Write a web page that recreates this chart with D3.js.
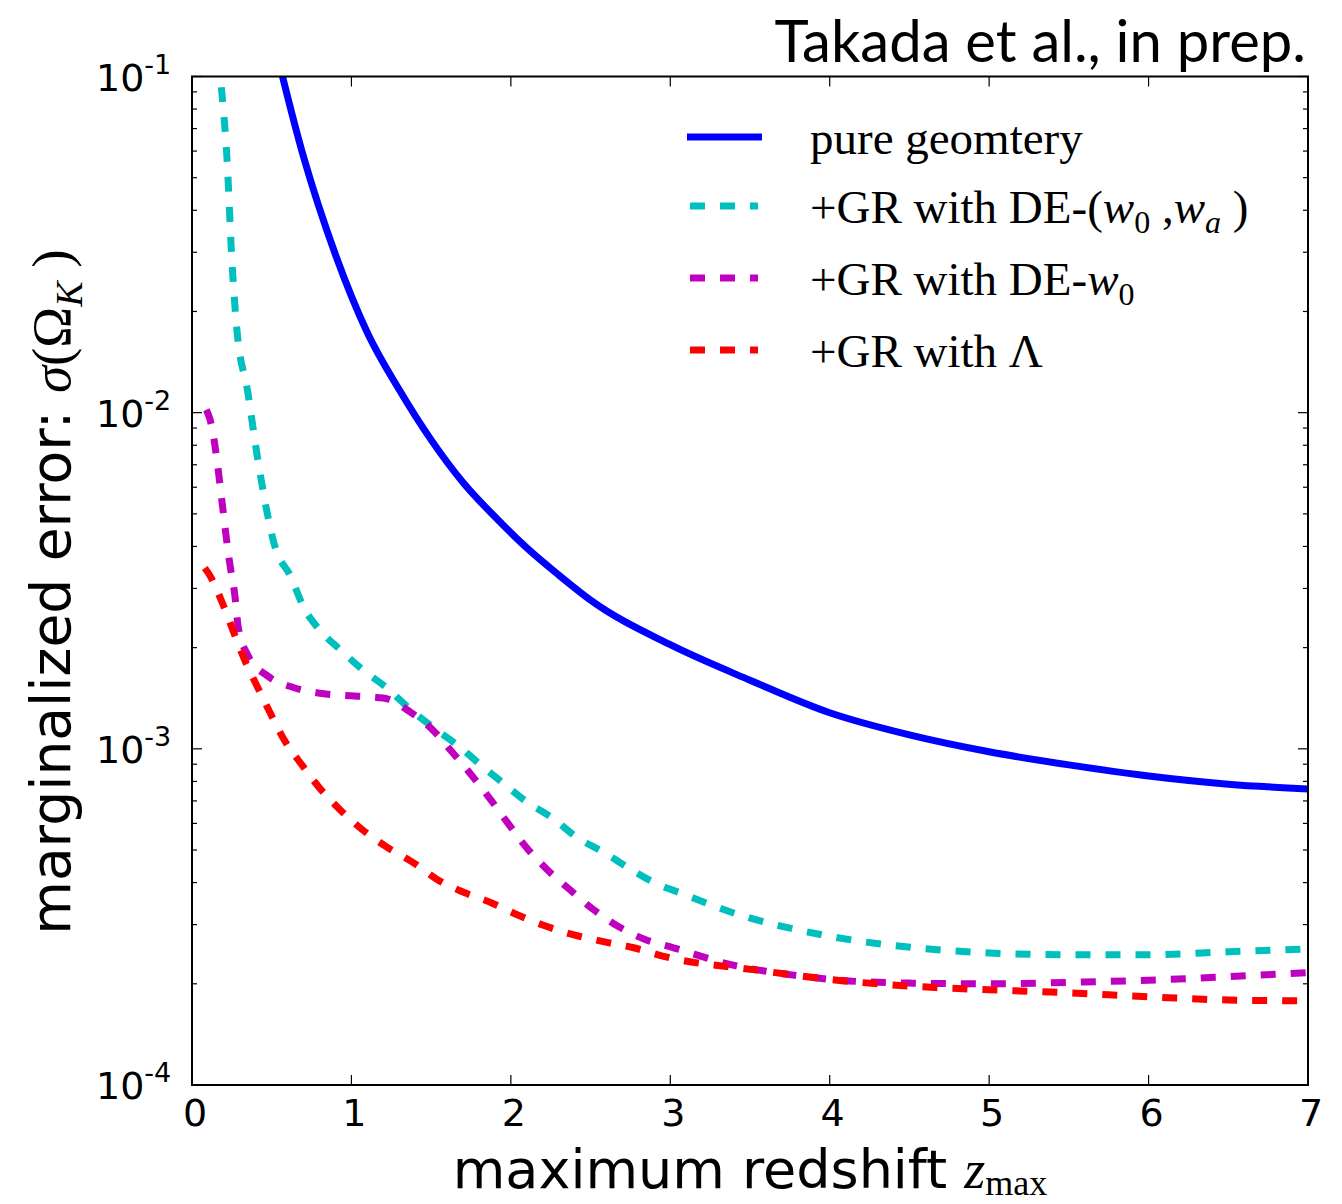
<!DOCTYPE html>
<html>
<head>
<meta charset="utf-8">
<script src="https://cdn.jsdelivr.net/npm/d3@7"></script>
<style>
  body { margin: 0; background: #fff; }
  svg { display: block; }
</style>
</head>
<body>
<script>
// readings: z_max and marginalized error sigma(Omega_K)
var zGeom   = [0.5, 0.7, 0.9, 1.1, 1.3, 1.5, 1.7, 1.9, 2.1, 2.3, 2.5, 3.0, 3.5, 4.0, 4.5, 5.0, 5.5, 6.0, 6.5, 7.0];
var sigGeom = [0.135, 0.0576, 0.0295, 0.0173, 0.0117, 0.0083, 0.0062, 0.0049, 0.00396, 0.00329, 0.00277, 0.00204, 0.0016, 0.00128, 0.0011, 0.00098, 0.000896, 0.00083, 0.000785, 0.00076];

var zW0Wa   = [0.15, 0.18, 0.22, 0.25, 0.28, 0.35, 0.41, 0.52, 0.62, 0.70, 0.80, 0.93, 1.07, 1.22, 1.37, 1.51, 1.66, 1.81, 1.95, 2.10, 2.26, 2.41, 2.58, 2.73, 2.89, 3.08, 3.43, 3.79, 4.16, 4.54, 5.0, 5.5, 6.0, 6.5, 7.0];
var sigW0Wa = [0.14, 0.0976, 0.0565, 0.0285, 0.018, 0.0115, 0.0074, 0.0040, 0.00325, 0.00264, 0.00226, 0.00197, 0.00172, 0.00152, 0.00131, 0.00116, 0.00103, 0.000896, 0.000792, 0.000695, 0.000623, 0.000547, 0.000493, 0.000445, 0.000402, 0.00037, 0.000321, 0.00029, 0.000269, 0.000256, 0.000247, 0.000244, 0.000244, 0.000249, 0.000254];

var zW0     = [0.09, 0.11, 0.24, 0.27, 0.29, 0.35, 0.48, 0.64, 0.84, 1.02, 1.20, 1.37, 1.51, 1.63, 1.74, 1.86, 1.98, 2.10, 2.23, 2.37, 2.52, 2.68, 2.85, 3.02, 3.38, 3.75, 4.12, 4.5, 5.0, 5.5, 6.0, 6.5, 7.0];
var sigW0   = [0.0102, 0.00965, 0.00348, 0.00283, 0.0023, 0.0019, 0.00164, 0.00152, 0.001456, 0.001436, 0.001416, 0.001286, 0.001138, 0.00098, 0.00085, 0.00072, 0.000602, 0.000507, 0.000436, 0.000381, 0.000332, 0.000295, 0.00027, 0.000256, 0.000228, 0.000213, 0.000204, 0.000201, 0.0002, 0.000202, 0.000205, 0.00021, 0.000216];

var zLam    = [0.08, 0.11, 0.19, 0.26, 0.33, 0.41, 0.49, 0.58, 0.69, 0.80, 0.93, 1.07, 1.22, 1.39, 1.54, 1.70, 1.88, 2.04, 2.20, 2.39, 2.58, 2.77, 2.98, 3.53, 4.09, 4.66, 5.0, 5.5, 6.0, 6.5, 7.0];
var sigLam  = [0.00345, 0.00329, 0.00272, 0.00223, 0.00184, 0.00153, 0.00128, 0.00106, 0.000895, 0.000765, 0.000658, 0.000574, 0.000511, 0.000458, 0.000408, 0.000375, 0.000348, 0.000321, 0.000299, 0.00028, 0.000267, 0.000256, 0.00024, 0.00022, 0.000204, 0.000195, 0.000192, 0.000188, 0.000183, 0.000179, 0.000178];

var xTicks = [0, 1, 2, 3, 4, 5, 6, 7];
var yDecades = [1e-4, 1e-3, 1e-2, 1e-1];
var yExponents = ["-4", "-3", "-2", "-1"];

var series = [
    {id:"geom", z:zGeom, s:sigGeom, stroke:"#0000ff", dash:null},
    {id:"w0wa", z:zW0Wa, s:sigW0Wa, stroke:"#00bfbf", dash:"15,15"},
    {id:"w0",   z:zW0,   s:sigW0,   stroke:"#bf00bf", dash:"15,15"},
    {id:"lam",  z:zLam,  s:sigLam,  stroke:"#ff0000", dash:"15,15"}
];

//---------setup plot-----------------------//
var margin = { top: 76.5, right: 34, bottom: 119, left: 192 },
    width = 1342 - margin.left - margin.right,
    height = 1204 - margin.top - margin.bottom;

var x = d3.scaleLinear().domain([0, 7]).range([0, width]);
var y = d3.scaleLog().domain([1e-4, 1e-1]).range([height, 0]);

var svg = d3.select("body").append("svg")
    .attr("width", 1342)
    .attr("height", 1204);

var g = svg.append("g")
    .attr("transform", "translate(" + margin.left + "," + margin.top + ")");

g.append("clipPath").attr("id", "plotclip")
  .append("rect").attr("width", width).attr("height", height);

// minor y ticks 2..9 in every decade
var minorY = [];
yDecades.slice(0, 3).forEach(function(d) {
    for (let k = 2; k < 10; k++) minorY.push(d * k);
});

// inward ticks, all four sides
var ticks = g.append("g").attr("stroke", "#000").attr("stroke-width", 1.2);
xTicks.forEach(function(t) {
    ticks.append("line").attr("x1", x(t)).attr("x2", x(t)).attr("y1", height).attr("y2", height - 10);
    ticks.append("line").attr("x1", x(t)).attr("x2", x(t)).attr("y1", 0).attr("y2", 10);
});
yDecades.forEach(function(t) {
    ticks.append("line").attr("x1", 0).attr("x2", 10).attr("y1", y(t)).attr("y2", y(t));
    ticks.append("line").attr("x1", width).attr("x2", width - 10).attr("y1", y(t)).attr("y2", y(t));
});
minorY.forEach(function(t) {
    ticks.append("line").attr("x1", 0).attr("x2", 5).attr("y1", y(t)).attr("y2", y(t));
    ticks.append("line").attr("x1", width).attr("x2", width - 5).attr("y1", y(t)).attr("y2", y(t));
});

// x tick labels
g.selectAll(".xlab").data(xTicks).enter().append("text")
    .attr("x", function(d) { return x(d) + 3; })
    .attr("y", height + 41)
    .attr("text-anchor", "middle")
    .style("font-family", "DejaVu Sans")
    .style("font-size", "38px")
    .text(function(d) { return d; });

// y tick labels 10^n
var ylab = g.selectAll(".ylab").data(yDecades).enter().append("text")
    .attr("x", -96)
    .attr("y", function(d) { return y(d) + 14; })
    .style("font-family", "DejaVu Sans")
    .style("font-size", "38px");
ylab.append("tspan").text("10");
ylab.append("tspan")
    .attr("dy", -17)
    .style("font-size", "27px")
    .text(function(d, i) { return yExponents[i]; });

//-------------data----------//
var line = d3.line()
    .curve(d3.curveMonotoneX)
    .x(function(d) { return x(d[0]); })
    .y(function(d) { return y(d[1]); });

var lines = g.append("g").attr("clip-path", "url(#plotclip)");
series.forEach(function(sr) {
    lines.append("path")
        .attr("id", sr.id)
        .attr("d", line(sr.z.map(function(z, i) { return [z, sr.s[i]]; })))
        .attr("fill", "none")
        .attr("stroke", sr.stroke)
        .attr("stroke-width", 7)
        .attr("stroke-linejoin", "round")
        .attr("stroke-dasharray", sr.dash);
});

// frame
g.append("rect")
    .attr("width", width).attr("height", height)
    .attr("fill", "none").attr("stroke", "#000").attr("stroke-width", 2);

//-------------legend----------//
var legY = [137, 206, 278, 350];
var leg = svg.append("g");
series.forEach(function(sr, i) {
    leg.append("line")
        .attr("x1", sr.dash ? 690 : 687).attr("x2", sr.dash ? 758 : 762)
        .attr("y1", legY[i]).attr("y2", legY[i])
        .attr("stroke", sr.stroke)
        .attr("stroke-width", 7)
        .attr("stroke-dasharray", sr.dash);
});

function legText(yy) {
    return leg.append("text")
        .attr("x", 810).attr("y", yy + 17)
        .style("font-family", "Liberation Serif")
        .style("font-size", "47px");
}
legText(legY[0]).text("pure geomtery");
var t1 = legText(legY[1]);
t1.append("tspan").text("+GR with DE-(");
t1.append("tspan").style("font-style", "italic").text("w");
t1.append("tspan").attr("dy", 10).style("font-size", "32px").text("0");
t1.append("tspan").attr("dy", -10).text(" ,");
t1.append("tspan").style("font-style", "italic").text("w");
t1.append("tspan").attr("dy", 10).style("font-size", "32px").style("font-style", "italic").text("a");
t1.append("tspan").attr("dy", -10).text(" )");
var t2 = legText(legY[2]);
t2.append("tspan").text("+GR with DE-");
t2.append("tspan").style("font-style", "italic").text("w");
t2.append("tspan").attr("dy", 10).style("font-size", "32px").text("0");
legText(legY[3]).text("+GR with \u039B");

//-------------labels----------//
// title
svg.append("text")
    .attr("x", 1306).attr("y", 62)
    .attr("text-anchor", "end")
    .style("font-family", "Lato")
    .style("font-size", "58px")
    .text("Takada et al., in prep.");

// x label
var xl = svg.append("text")
    .attr("x", 750).attr("y", 1188)
    .attr("text-anchor", "middle")
    .style("font-family", "DejaVu Sans")
    .style("font-size", "54px");
xl.append("tspan").text("maximum redshift ");
xl.append("tspan").style("font-family", "Liberation Serif").style("font-style", "italic").text("z");
xl.append("tspan").attr("dy", 7).style("font-family", "Liberation Serif").style("font-size", "36px").text("max");

// y label
var yl = svg.append("text")
    .attr("transform", "translate(70,592) rotate(-90)")
    .attr("text-anchor", "middle")
    .style("font-family", "DejaVu Sans")
    .style("font-size", "55px");
yl.append("tspan").text("marginalized error: ");
yl.append("tspan").style("font-family", "Liberation Serif").style("font-style", "italic").text("\u03C3");
yl.append("tspan").style("font-family", "Liberation Serif").text("(\u03A9");
yl.append("tspan").attr("dy", 12).style("font-family", "Liberation Serif").style("font-style", "italic").style("font-size", "38px").text("K");
yl.append("tspan").attr("dy", -12).style("font-family", "Liberation Serif").text(" )");
</script>
</body>
</html>
